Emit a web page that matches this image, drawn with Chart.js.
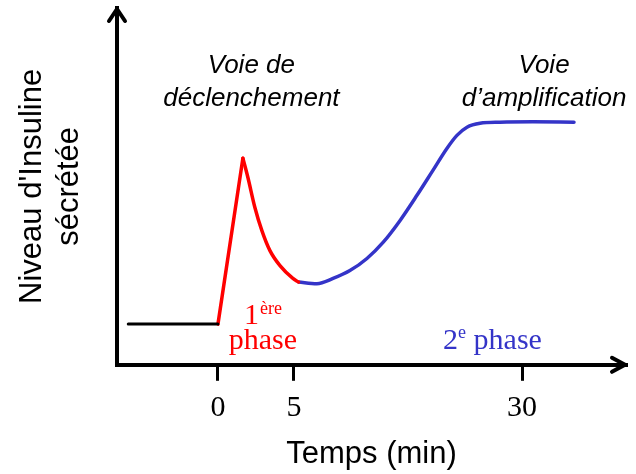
<!DOCTYPE html>
<html>
<head>
<meta charset="utf-8">
<script src="https://cdn.jsdelivr.net/npm/chart.js@4/dist/chart.umd.min.js"></script>
<style>
  html, body { margin: 0; padding: 0; background: #fff; }
  #wrap { width: 636px; height: 474px; }
</style>
</head>
<body>
<div id="wrap"><canvas id="c" width="636" height="474"></canvas></div>
<script>
// ---- data (x in schematic axis units; tick "30" sits at 20 because the axis is broken) ----
const tickPositions = [0, 5, 20];
const tickLabels = ['0', '5', '30'];

const baselineX = [-5.9, 0];
const baselineY = [11.4, 11.4];

const riseX = [0, 1.64];
const riseY = [11.4, 57.9];

const decayX = [1.64, 1.97, 2.43, 2.89, 3.42, 4.08, 4.93, 5.3];
const decayY = [57.9, 52.5, 44.1, 37.6, 32.0, 27.8, 24.2, 23.2];

const secondX = [5.3, 6.51, 7.57, 8.68, 9.80, 10.86, 11.97, 13.09, 14.14, 15.07, 15.72, 16.38, 17.24, 18.55, 20.72, 23.42];
const secondY = [23.2, 22.75, 24.2, 26.4, 29.8, 34.3, 40.4, 47.5, 54.5, 60.7, 64.3, 66.6, 67.7, 68.0, 68.1, 68.0];

const yTitle = ["Niveau d'Insuline", 'sécrétée'];
const xTitle = 'Temps (min)';
const pathway1 = ['Voie de', 'déclenchement'];
const pathway2 = ['Voie', 'd’amplification'];
const phase1 = ['1', 'ère', 'phase'];
const phase2 = ['2', 'e', ' phase'];

const RED = '#ff0000';
const BLUE = '#3434c8';

const pts = (xs, ys) => xs.map((x, i) => ({ x: x, y: ys[i] }));

const annotationPos = {
  p1: { x: 2.2, y1: 81.7, y2: 72.5 },
  p2: { x: 21.45, y1: 81.7, y2: 72.5 },
  ph1: { x: 2.96, yTop: 11.5, yBottom: 4.5 },
  ph2: { x: 18.06, y: 4.5 }
};

const overlay = {
  id: 'overlay',
  afterDraw(chart) {
    const { ctx, chartArea: a, scales: { x, y } } = chart;
    ctx.save();
    // arrow heads
    ctx.strokeStyle = '#000';
    ctx.lineWidth = 4;
    ctx.lineCap = 'round';
    ctx.lineJoin = 'round';
    ctx.beginPath();
    ctx.moveTo(a.left - 8, a.top + 13);
    ctx.lineTo(a.left, a.top + 1);
    ctx.lineTo(a.left + 8, a.top + 13);
    ctx.stroke();
    ctx.beginPath();
    ctx.moveTo(a.right - 14, a.bottom - 7);
    ctx.lineTo(a.right - 1, a.bottom);
    ctx.lineTo(a.right - 14, a.bottom + 7);
    ctx.stroke();

    // pathway labels
    ctx.fillStyle = '#000';
    ctx.textAlign = 'center';
    ctx.textBaseline = 'alphabetic';
    ctx.font = 'italic 26px "Liberation Sans", Arial, sans-serif';
    [[pathway1, annotationPos.p1], [pathway2, annotationPos.p2]].forEach(([t, p]) => {
      ctx.fillText(t[0], x.getPixelForValue(p.x), y.getPixelForValue(p.y1));
      ctx.fillText(t[1], x.getPixelForValue(p.x), y.getPixelForValue(p.y2));
    });

    // phase labels
    const big = '30px "Liberation Serif", "Times New Roman", serif';
    const small = '18px "Liberation Serif", "Times New Roman", serif';
    ctx.textAlign = 'left';
    // 1ère phase
    ctx.fillStyle = RED;
    ctx.font = big; const w1 = ctx.measureText(phase1[0]).width;
    ctx.font = small; const w2 = ctx.measureText(phase1[1]).width;
    let cx = x.getPixelForValue(annotationPos.ph1.x);
    let by = y.getPixelForValue(annotationPos.ph1.yTop);
    let sx = cx - (w1 + 1 + w2) / 2;
    ctx.font = big; ctx.fillText(phase1[0], sx, by);
    ctx.font = small; ctx.fillText(phase1[1], sx + w1 + 1, by - 10);
    ctx.font = big; ctx.textAlign = 'center';
    ctx.fillText(phase1[2], cx, y.getPixelForValue(annotationPos.ph1.yBottom));
    // 2e phase
    ctx.fillStyle = BLUE;
    ctx.textAlign = 'left';
    ctx.font = big; const a1 = ctx.measureText(phase2[0]).width;
    ctx.font = small; const a2 = ctx.measureText(phase2[1]).width;
    ctx.font = big; const a3 = ctx.measureText(phase2[2]).width;
    cx = x.getPixelForValue(annotationPos.ph2.x);
    by = y.getPixelForValue(annotationPos.ph2.y);
    sx = cx - (a1 + a2 + a3) / 2;
    ctx.font = big; ctx.fillText(phase2[0], sx, by);
    ctx.font = small; ctx.fillText(phase2[1], sx + a1, by - 11);
    ctx.font = big; ctx.fillText(phase2[2], sx + a1 + a2, by);
    ctx.restore();
  }
};

const lineDs = (data, color, width, mode) => ({
  data: data,
  borderColor: color,
  borderWidth: width,
  pointRadius: 0,
  fill: false,
  cubicInterpolationMode: mode || 'default',
  tension: 0,
  borderCapStyle: 'round',
  borderJoinStyle: 'round'
});

new Chart(document.getElementById('c'), {
  type: 'line',
  data: {
    datasets: [
      lineDs(pts(baselineX, baselineY), '#000', 3),
      lineDs(pts(riseX, riseY), RED, 3.5),
      lineDs(pts(decayX, decayY), RED, 3.5, 'monotone'),
      lineDs(pts(secondX, secondY), BLUE, 3.5, 'monotone')
    ]
  },
  options: {
    responsive: false,
    devicePixelRatio: 1,
    animation: false,
    events: [],
    layout: { padding: { left: 10, top: 8, right: 10, bottom: 1 } },
    plugins: { legend: { display: false }, tooltip: { enabled: false } },
    scales: {
      x: {
        type: 'linear',
        min: -6.64,
        max: 26.84,
        afterBuildTicks: (s) => { s.ticks = tickPositions.map(v => ({ value: v })); },
        ticks: {
          callback: (v) => tickLabels[tickPositions.indexOf(v)],
          color: '#000',
          padding: 9,
          maxRotation: 0,
          autoSkip: false,
          font: { family: '"Liberation Serif", "Times New Roman", serif', size: 30, lineHeight: 1.2 }
        },
        grid: { display: true, drawOnChartArea: false, drawTicks: true, tickLength: 16, tickWidth: 3, tickColor: '#000', color: '#000', lineWidth: 3 },
        border: { display: true, color: '#000', width: 4 },
        title: {
          display: true, text: xTitle, color: '#000',
          font: { family: '"Liberation Sans", Arial, sans-serif', size: 31, lineHeight: 1.2 },
          padding: { top: 1, bottom: 0 }
        }
      },
      y: {
        type: 'linear',
        min: 0,
        max: 100,
        ticks: { display: false },
        grid: { display: false },
        border: { display: true, color: '#000', width: 4 },
        title: {
          display: true, text: yTitle, color: '#000',
          font: { family: '"Liberation Sans", Arial, sans-serif', size: 31, lineHeight: 1.2 },
          padding: { top: 4, bottom: 20.6 }
        }
      }
    }
  },
  plugins: [overlay]
});
</script>
</body>
</html>
